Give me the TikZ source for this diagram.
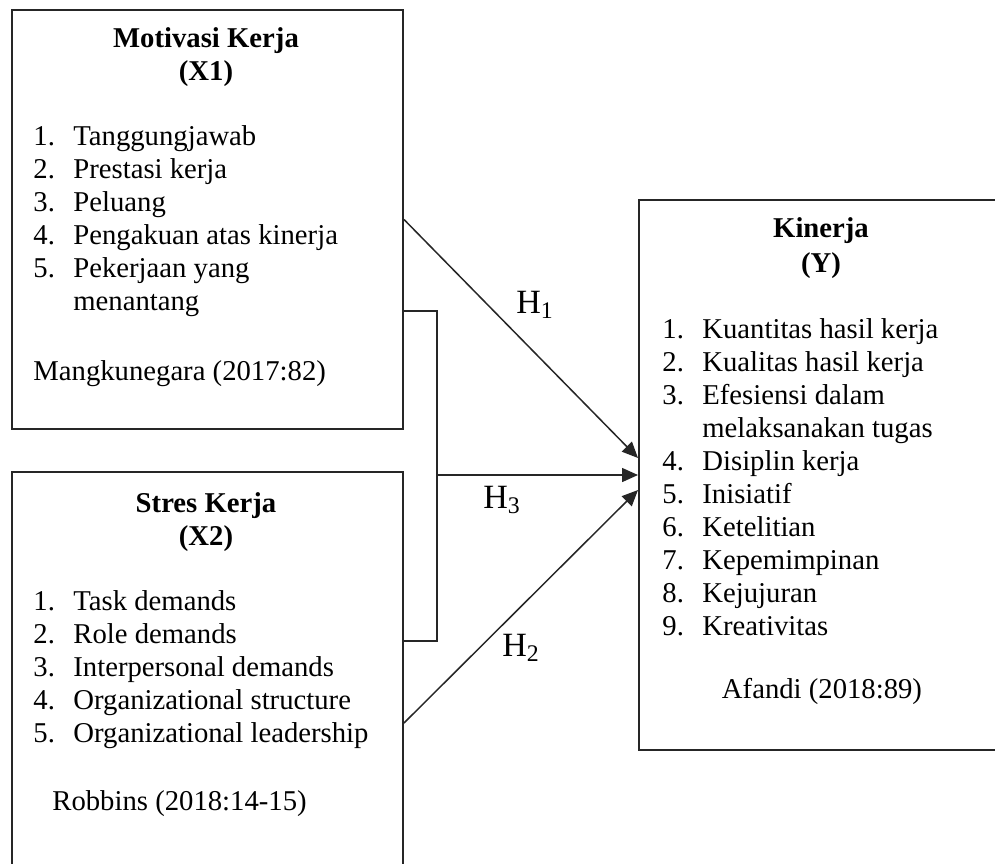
\documentclass[tikz,border=0pt]{standalone}
\usepackage{fontspec}
\setmainfont{Liberation Serif}
\usetikzlibrary{arrows.meta}

\tikzset{
  box/.style={draw=black!85, line width=1pt, rectangle, inner sep=0pt},
  txt/.style={inner sep=0pt, font=\fontsize{14.35}{16.5}\selectfont},
  hlabel/.style={inner sep=0pt, font=\fontsize{17}{19}\selectfont},
  link/.style={draw=black!85, line width=0.75pt},
  arr/.style={link, -{Triangle[length=8pt, width=7pt]}},
}

\begin{document}
\begin{tikzpicture}[x=0.5pt, y=-0.5pt]
        \useasboundingbox (0,0) rectangle (995,863);
        \clip (0,0) rectangle (995,863);

        % Kotak variabel
        \node[box, minimum width=195.5pt, minimum height=209.5pt] (mk) at (207.5,219.5) {};
        \node[box, minimum width=195.5pt, minimum height=251pt] (sk) at (207.5,723) {};
        \node[box, minimum width=185.5pt, minimum height=275pt] (kin) at (824.5,475) {};

        % Motivasi Kerja (X1)
        \node[txt, anchor=base] (mkt) at (206,47) {\begin{tabular}[t]{@{}c@{}}\textbf{Motivasi Kerja}\\\textbf{(X1)}\end{tabular}};
        \node[txt, anchor=base west] (mkl) at (33,145) {\begin{tabular}[t]{@{}p{20pt}@{}l@{}}
            1. & Tanggungjawab\\
            2. & Prestasi kerja\\
            3. & Peluang\\
            4. & Pengakuan atas kinerja\\
            5. & Pekerjaan yang\\
               & menantang
        \end{tabular}};
        \node[txt, anchor=base west] (mkr) at (33,380) {Mangkunegara (2017:82)};

        % Stres Kerja (X2)
        \node[txt, anchor=base] (skt) at (206,512) {\begin{tabular}[t]{@{}c@{}}\textbf{Stres Kerja}\\\textbf{(X2)}\end{tabular}};
        \node[txt, anchor=base west] (skl) at (33,610) {\begin{tabular}[t]{@{}p{20pt}@{}l@{}}
            1. & Task demands\\
            2. & Role demands\\
            3. & Interpersonal demands\\
            4. & Organizational structure\\
            5. & Organizational leadership
        \end{tabular}};
        \node[txt, anchor=base west] (skr) at (52,810) {Robbins (2018:14-15)};

        % Kinerja (Y)
        \node[txt, anchor=base] (kint) at (821,237) {\begin{tabular}[t]{@{}c@{}}\textbf{Kinerja}\\[1pt]\textbf{(Y)}\end{tabular}};
        \node[txt, anchor=base west] (kinl) at (662,338) {\begin{tabular}[t]{@{}p{20pt}@{}l@{}}
            1. & Kuantitas hasil kerja\\
            2. & Kualitas hasil kerja\\
            3. & Efesiensi dalam\\
               & melaksanakan tugas\\
            4. & Disiplin kerja\\
            5. & Inisiatif\\
            6. & Ketelitian\\
            7. & Kepemimpinan\\
            8. & Kejujuran\\
            9. & Kreativitas
        \end{tabular}};
        \node[txt, anchor=base] (kinr) at (822,698) {Afandi (2018:89)};

        % Hubungan
        \coordinate (brk) at (437,475);
        \draw[link] ([yshift=-45.75pt]mk.east) -| (brk) |- ([yshift=-85pt]sk.north east);
        \draw[arr] (mk.east) -- ([yshift=8.5pt]kin.west);
        \draw[arr] (brk) -- (kin.west);
        \draw[arr] (sk.east) -- ([yshift=-7.5pt]kin.west);

        \node[hlabel, anchor=base west] (h1) at (516,313) {H\textsubscript{1}};
        \node[hlabel, anchor=base west] (h3) at (483,508) {H\textsubscript{3}};
        \node[hlabel, anchor=base west] (h2) at (502,656) {H\textsubscript{2}};
    \end{tikzpicture}
\end{document}
